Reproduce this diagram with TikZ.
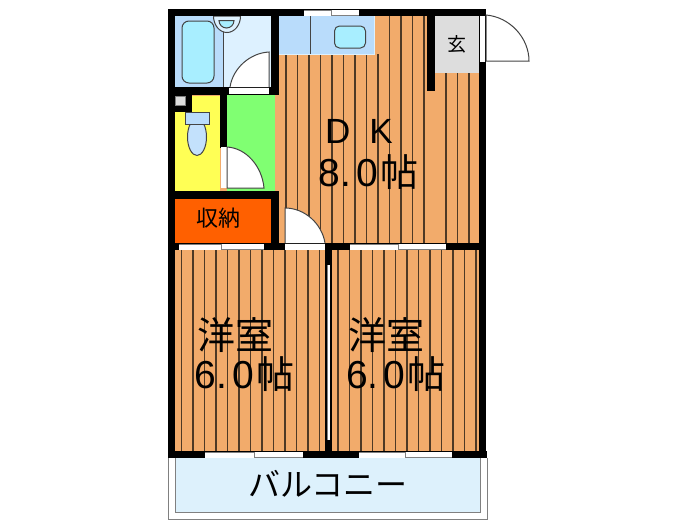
\documentclass[tikz,border=0pt]{standalone}
\usepackage{fontspec}
\setmainfont{Noto Sans CJK JP}
\newfontfamily\latinfont{Liberation Sans}
\definecolor{floor}{HTML}{F2AB6B}
\definecolor{slat}{HTML}{4E3925}
\definecolor{tubblue}{HTML}{B9DCFB}
\definecolor{tubwater}{HTML}{A8EEFF}
\definecolor{washblue}{HTML}{DDF1FF}
\definecolor{toiletyellow}{HTML}{FFFF55}
\definecolor{halgreen}{HTML}{80FF72}
\definecolor{storeorange}{HTML}{FF6000}
\definecolor{entrygray}{HTML}{DDDDDD}
\definecolor{balconyblue}{HTML}{DDF1FC}
\definecolor{linegray}{HTML}{444444}
\newcommand{\nums}[2]{{\latinfont\fontsize{39}{39}\selectfont #1\kern-0.5pt.\kern5.5pt #2}\kern2pt帖}
\tikzset{
  wall/.style={fill=black,draw=none},
  slatline/.style={draw=slat,line width=1.5pt},
  doorleaf/.style={fill=white,draw=linegray,line width=1pt},
  sill/.style={fill=white,draw=none},
  fixture/.style={draw=linegray,line width=1pt},
  roomlabel/.style={inner sep=0pt,text=black,font=\fontsize{38}{38}\selectfont}
}
\begin{document}
\begin{tikzpicture}[x=1pt,y=-1pt]
\useasboundingbox (0,0) rectangle (700,525);
\fill[white] (0,0) rectangle (700,525);
% floor
\fill[floor] (175,16) rectangle (480,451);
% slats
\foreach \x in {286,297.5,309,320.5,332,343.5,355,366.5,378} \draw[slatline] (\x,54) -- (\x,243);
\foreach \x in {389.5,401,412.5,424} \draw[slatline] (\x,16) -- (\x,243);
\foreach \x in {446,457.5,469} \draw[slatline] (\x,73) -- (\x,243);
\foreach \x in {181.5,193,204.5,216,227.5,239,250.5,262,273.5,285,296.5,308,319.5,338,349.5,361,372.5,384,395.5,407,418.5,430,441.5,453,464.5,476} \draw[slatline] (\x,250) -- (\x,451);
% bath
\fill[tubblue] (175,16) rectangle (223,87);
\fill[washblue] (223,16) rectangle (271,87);
\draw[fixture] (223,30) -- (223,87);
\draw[fixture,fill=tubwater,rounded corners=7pt] (182,21) rectangle (214,83);
\draw[fixture,fill=washblue] (213.5,16) arc[start angle=180,end angle=0,x radius=13.5,y radius=16.5] -- cycle;
\draw[fixture,fill=tubwater] (219,20.5) -- (234,20.5) arc[start angle=0,end angle=180,x radius=7.5,y radius=7.5] -- cycle;
% kitchen
\fill[tubblue] (279,16) rectangle (374,54);
\draw[draw=linegray,line width=1pt] (310,16) -- (310,54);
\draw[fixture,fill=tubwater,rounded corners=5pt] (334.5,26) rectangle (365.5,48);
\draw[draw=washblue,line width=1pt] (279,54) -- (374,54) -- (374,16);
% WC + hall + storage + entrance
\fill[toiletyellow] (175,96) rectangle (220,191);
\fill[halgreen] (227,95) rectangle (275,191);
\fill[storeorange] (175,199) rectangle (271,243);
\fill[entrygray] (435,16) rectangle (479,73);
\fill[balconyblue] (175,458) rectangle (480,512);
\draw[draw=gray,line width=1pt] (168,458) -- (168,519) -- (487,519) -- (487,458);
\draw[draw=gray,line width=1pt] (175,458) -- (175,512) -- (480,512) -- (480,458);
% toilet
\draw[fixture,fill=tubblue!85!white] (197,137) ellipse[x radius=9.5,y radius=18.5];
\draw[fixture,fill=tubblue] (185.5,112.5) rectangle (209,124.5);
% walls
\fill[wall] (168,9) rectangle (486,16);
\fill[wall] (168,9) rectangle (175,458);
\fill[wall] (479,9) rectangle (486,458);
\fill[wall] (168,451) rectangle (487,458);
\fill[wall] (168,243) rectangle (486,250);
\fill[wall] (168,87) rectangle (279,95);
\fill[wall] (271,9) rectangle (279,95);
\fill[wall] (168,95) rectangle (192,112);
\fill[wall] (220,95) rectangle (227,148);
\fill[wall] (168,191) rectangle (279,199);
\fill[wall] (271,191) rectangle (279,250);
\fill[wall] (427,9) rectangle (435,91);
\fill[wall] (325,250) rectangle (332,451);
\fill[entrygray,draw=gray,line width=.5pt] (175.5,96) rectangle (185,105);
% openings
\fill[sill] (229,88) rectangle (269,94);
\draw[doorleaf] (269,87) -- (269,52) .. controls (250,53) and (233,68) .. (230,87);
\fill[sill] (221,147) rectangle (227,188);
\draw[doorleaf] (227,188) -- (227,147) .. controls (246,148) and (262,166) .. (264,188) -- cycle;
\fill[sill] (285,243.5) rectangle (325,250);
\draw[doorleaf] (285,243) -- (285,208) .. controls (305,208) and (322,224) .. (325,243);
\fill[sill] (479.5,16) rectangle (485,62);
\draw[doorleaf] (486,61) -- (486,15) .. controls (510,17) and (529,38) .. (529,61) -- cycle;
\fill[sill] (327,265) rectangle (330,440);
\draw[draw=gray,line width=.8pt] (327,265) -- (327,440);
% windows
\foreach \a/\b/\yt in {304/359/10, 179/264/244, 350/446/244, 205/303/452, 359/452/452}{
  \pgfmathsetmacro{\m}{(\a+\b)/2}
  \fill[white] (\a,\yt) rectangle (\b,\yt+5.5);
  \draw[draw=gray,line width=1pt] (\a,\yt+.5) -- (\m,\yt+.5);
  \draw[draw=gray,line width=1pt] (\m,\yt+5) -- (\b,\yt+5);
  \draw[draw=gray,line width=.8pt] (\m,\yt-.5) -- (\m,\yt+6);
}
% text
\node[inner sep=0pt,font=\fontsize{19}{19}\selectfont] (genkan) at (457,44) {玄};
\node[inner sep=0pt,font=\fontsize{22}{22}\selectfont] (store) at (218,218) {収納};
\node[roomlabel,font=\fontsize{35}{35}\selectfont\latinfont] (dk) at (359,131.5) {D\kern19pt K};
\node[roomlabel] (dkarea) at (368.5,172) {\nums{8}{0}};
\node[roomlabel] (w1) at (235,335) {洋室};
\node[roomlabel] (w1a) at (244.5,374.5) {\nums{6}{0}};
\node[roomlabel] (w2) at (386,335) {洋室};
\node[roomlabel] (w2a) at (396,374.5) {\nums{6}{0}};
\node[inner sep=0pt,font=\fontsize{32}{32}\selectfont] (balc) at (328,484) {バルコニー};
\end{tikzpicture}
\end{document}
